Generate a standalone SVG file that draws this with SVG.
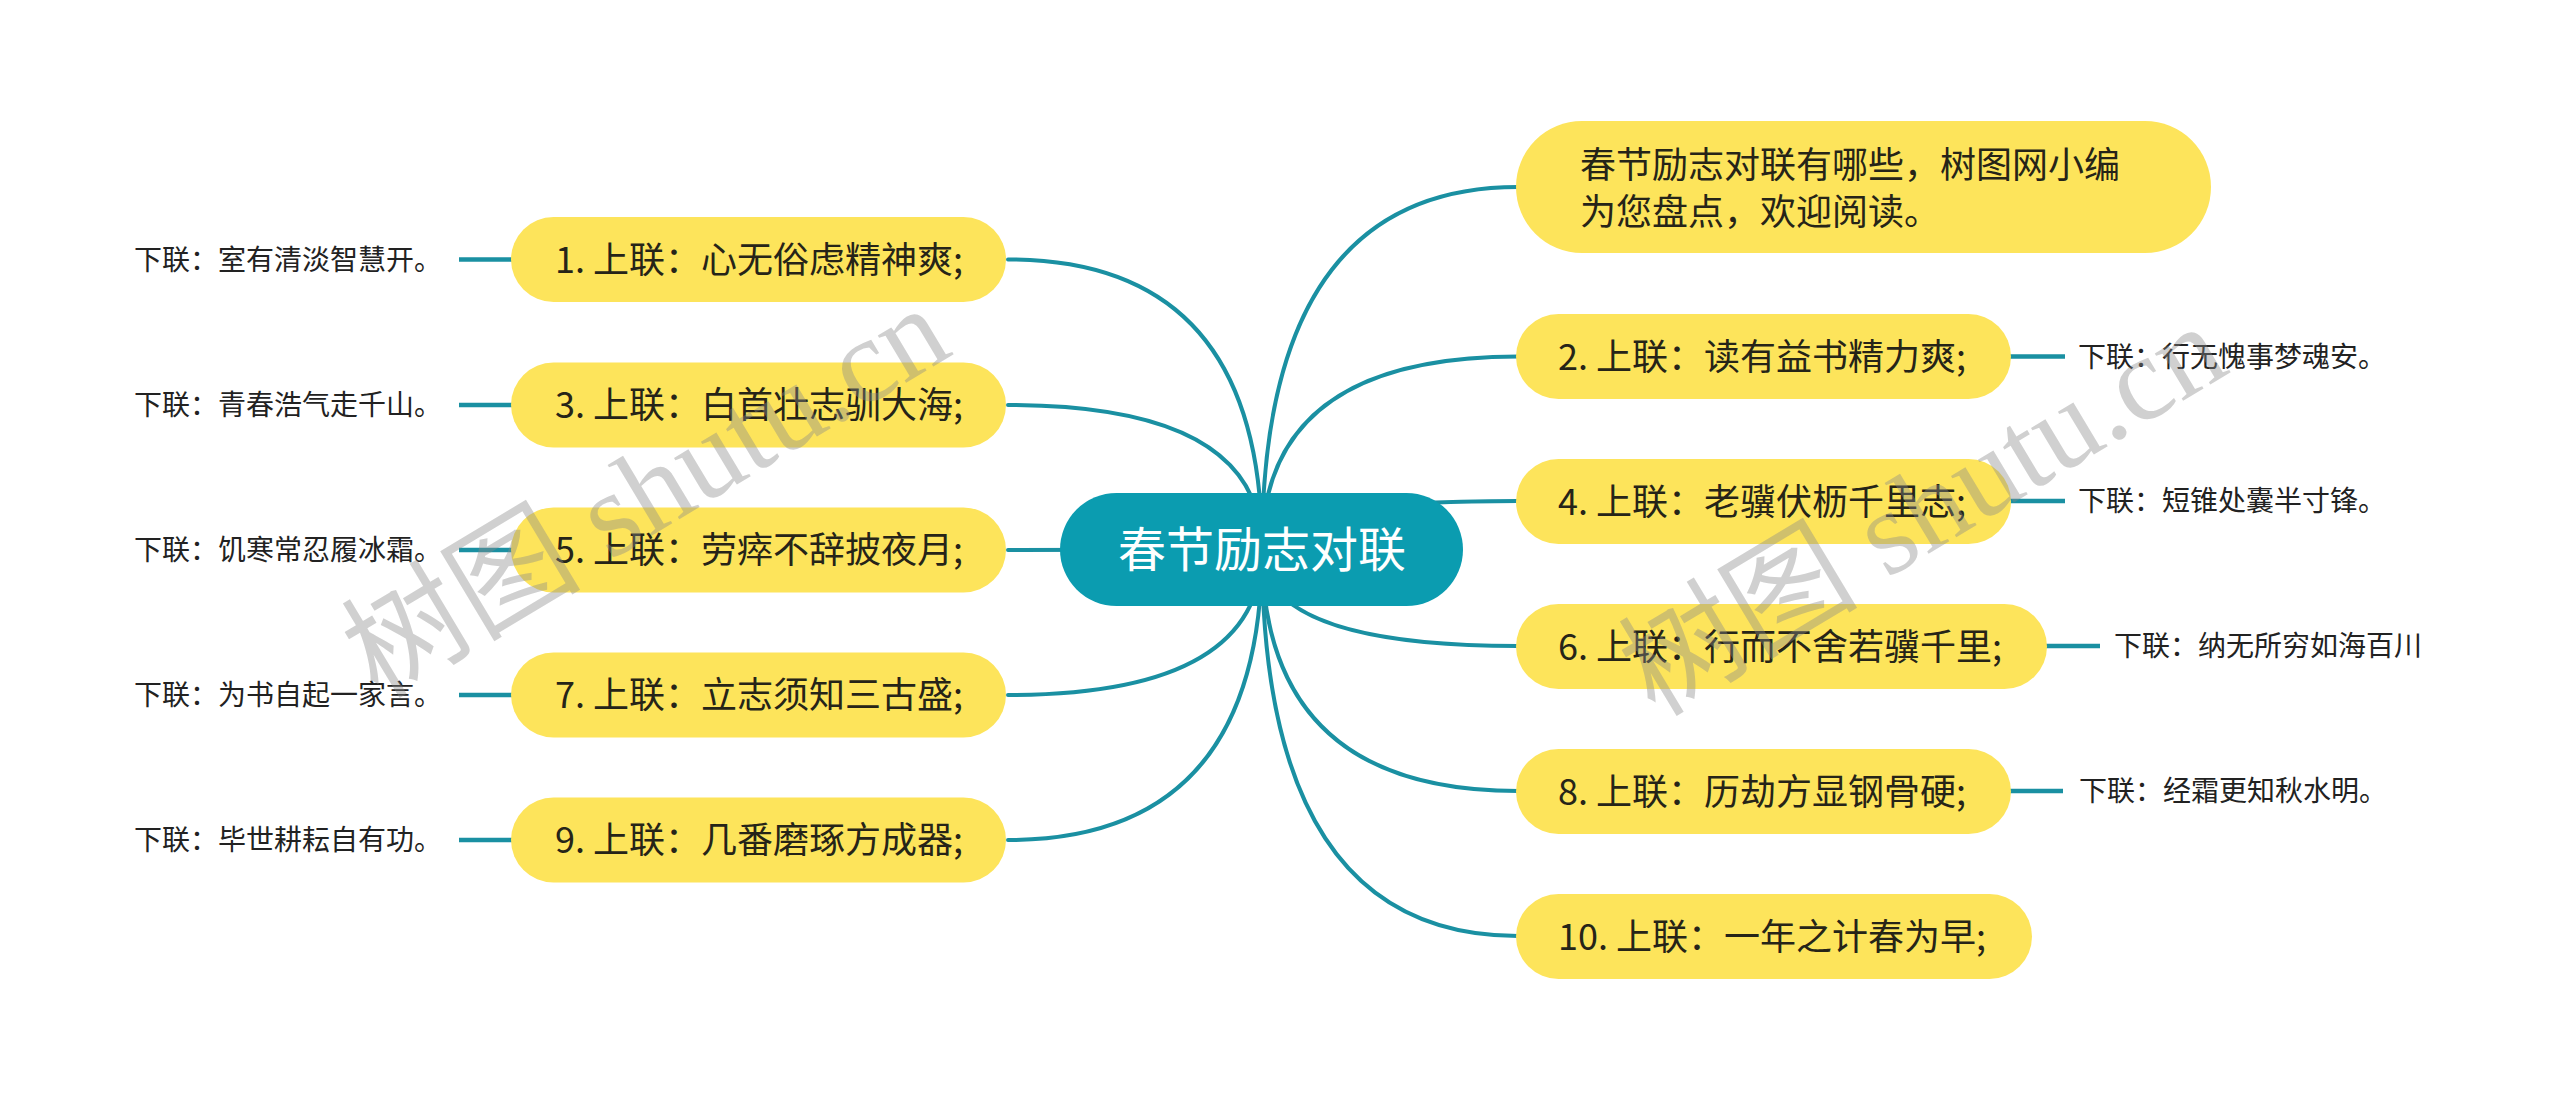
<svg xmlns="http://www.w3.org/2000/svg" width="2560" height="1099" viewBox="0 0 2560 1099">
<style>
.bg{fill:#ffffff}
.link{fill:none;stroke:#1a90a2;stroke-width:4;stroke-linecap:round}
.stub{fill:none;stroke:#1a90a2;stroke-width:4.5}
.root{fill:#0b9cb0}
.rootT{fill:#ffffff;font-family:"Noto Sans CJK SC","Noto Sans",sans-serif;font-size:48px;text-anchor:middle}
.node{fill:#fde45b}
.nodeT{fill:#262418;font-family:"Noto Sans CJK SC","Noto Sans",sans-serif;font-size:36px}
.lbl{fill:#222222;font-family:"Noto Sans CJK SC","Noto Sans",sans-serif;font-size:28px}
.wm{fill:#8a8a8a;fill-opacity:0.4;font-family:"Liberation Serif","Noto Sans CJK SC",serif;font-size:120px}
</style>
<rect class="bg" x="0" y="0" width="2560" height="1099"/>
<g id="connectors">
  <path class="link" d="M1262,549.5 Q1262,259.5 1008,259.5"/>
  <path class="link" d="M1262,549.5 Q1262,405 1008,405"/>
  <path class="link" d="M1262,549.5 Q1262,550 1008,550"/>
  <path class="link" d="M1262,549.5 Q1262,695 1008,695"/>
  <path class="link" d="M1262,549.5 Q1262,840 1008,840"/>
  <path class="link" d="M1262,549.5 Q1262,187 1518,187"/>
  <path class="link" d="M1262,549.5 Q1262,356.5 1518,356.5"/>
  <path class="link" d="M1262,549.5 Q1262,501 1518,501"/>
  <path class="link" d="M1262,549.5 Q1262,646 1518,646"/>
  <path class="link" d="M1262,549.5 Q1262,791 1518,791"/>
  <path class="link" d="M1262,549.5 Q1262,936 1518,936"/>
  <path class="stub" d="M459,259.5 H513"/>
  <path class="stub" d="M459,405 H513"/>
  <path class="stub" d="M459,550 H513"/>
  <path class="stub" d="M459,695 H513"/>
  <path class="stub" d="M459,840 H513"/>
  <path class="stub" d="M2009,356.5 H2065"/>
  <path class="stub" d="M2009,501 H2065"/>
  <path class="stub" d="M2045,646 H2100"/>
  <path class="stub" d="M2009,791 H2063"/>
</g>
<g id="root">
  <rect class="root" x="1060" y="493" width="403" height="113" rx="56.5"/>
  <text class="rootT" x="1262" y="567">春节励志对联</text>
</g>
<g id="n1">
  <rect class="node" x="511" y="217" width="495" height="85" rx="42.5"/>
  <text class="nodeT" x="555" y="272.5">1. 上联：心无俗虑精神爽;</text>
</g>
<g id="n1-lbl"><text class="lbl" x="134" y="269.5">下联：室有清淡智慧开。</text></g>
<g id="n3">
  <rect class="node" x="511" y="362.5" width="495" height="85" rx="42.5"/>
  <text class="nodeT" x="555" y="418">3. 上联：白首壮志驯大海;</text>
</g>
<g id="n3-lbl"><text class="lbl" x="134" y="415">下联：青春浩气走千山。</text></g>
<g id="n5">
  <rect class="node" x="511" y="507.5" width="495" height="85" rx="42.5"/>
  <text class="nodeT" x="555" y="563">5. 上联：劳瘁不辞披夜月;</text>
</g>
<g id="n5-lbl"><text class="lbl" x="134" y="560">下联：饥寒常忍履冰霜。</text></g>
<g id="n7">
  <rect class="node" x="511" y="652.5" width="495" height="85" rx="42.5"/>
  <text class="nodeT" x="555" y="708">7. 上联：立志须知三古盛;</text>
</g>
<g id="n7-lbl"><text class="lbl" x="134" y="705">下联：为书自起一家言。</text></g>
<g id="n9">
  <rect class="node" x="511" y="797.5" width="495" height="85" rx="42.5"/>
  <text class="nodeT" x="555" y="853">9. 上联：几番磨琢方成器;</text>
</g>
<g id="n9-lbl"><text class="lbl" x="134" y="850">下联：毕世耕耘自有功。</text></g>
<g id="intro">
  <rect class="node" x="1516" y="121" width="695" height="132" rx="66"/>
  <text class="nodeT" x="1580" y="178">春节励志对联有哪些，树图网小编</text>
  <text class="nodeT" x="1580" y="225">为您盘点，欢迎阅读。</text>
</g>
<g id="n2">
  <rect class="node" x="1516" y="314" width="495" height="85" rx="42.5"/>
  <text class="nodeT" x="1558" y="369.5">2. 上联：读有益书精力爽;</text>
</g>
<g id="n2-lbl"><text class="lbl" x="2078" y="366.5">下联：行无愧事梦魂安。</text></g>
<g id="n4">
  <rect class="node" x="1516" y="459" width="495" height="85" rx="42.5"/>
  <text class="nodeT" x="1558" y="514.5">4. 上联：老骥伏枥千里志;</text>
</g>
<g id="n4-lbl"><text class="lbl" x="2078" y="511">下联：短锥处囊半寸锋。</text></g>
<g id="n6">
  <rect class="node" x="1516" y="604" width="531" height="85" rx="42.5"/>
  <text class="nodeT" x="1558" y="659.5">6. 上联：行而不舍若骥千里;</text>
</g>
<g id="n6-lbl"><text class="lbl" x="2114" y="656">下联：纳无所穷如海百川</text></g>
<g id="n8">
  <rect class="node" x="1516" y="749" width="495" height="85" rx="42.5"/>
  <text class="nodeT" x="1558" y="804.5">8. 上联：历劫方显钢骨硬;</text>
</g>
<g id="n8-lbl"><text class="lbl" x="2079" y="801">下联：经霜更知秋水明。</text></g>
<g id="n10">
  <rect class="node" x="1516" y="894" width="516" height="85" rx="42.5"/>
  <text class="nodeT" x="1558" y="949.5">10. 上联：一年之计春为早;</text>
</g>
<g id="watermarks">
  <text class="wm" transform="translate(378,700) rotate(-31)">树图 shutu.cn</text>
  <text class="wm" transform="translate(1655,718) rotate(-31)">树图 shutu.cn</text>
</g>
</svg>
